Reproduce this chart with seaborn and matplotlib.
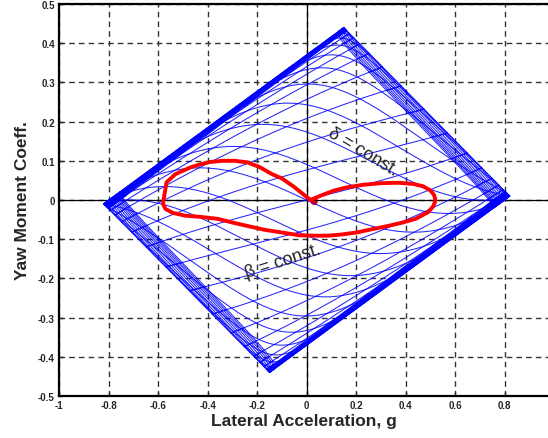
import numpy as np
import pandas as pd
import matplotlib
matplotlib.use("Agg")
import matplotlib.pyplot as plt
import seaborn as sns

# ---------------- data ----------------
# sweep values of the moment-method diagram (degrees)
body_slip_deg = list(range(-40, 41, 2))
steer_deg = list(range(-68, 69, 4))

# vehicle / tyre parameters
front_capacity_g = 0.485     # front axle lateral capacity (g)
rear_capacity_g = 0.335      # rear axle lateral capacity (g)
front_moment = 0.225         # yaw-moment coefficient per unit front force
rear_moment = 0.215          # yaw-moment coefficient per unit rear force
front_yaw_gain_deg = 5.4     # a*g/V^2 (deg per g)
rear_yaw_gain_deg = 7.8      # b*g/V^2 (deg per g)
tyre_B, tyre_C, tyre_E = 0.07, 1.5, 0.0

# red trajectory (lateral acceleration g, yaw-moment coeff.)
traj_ay = [0.015, 0.06, 0.11, 0.16, 0.23, 0.30, 0.37, 0.43, 0.47, 0.50, 0.515,
           0.52, 0.51, 0.49, 0.44, 0.39, 0.33, 0.26, 0.20, 0.14, 0.09, 0.03,
           -0.03, -0.11, -0.17, -0.22, -0.29, -0.36, -0.43, -0.49, -0.54,
           -0.57, -0.58, -0.577, -0.566, -0.53, -0.47, -0.43, -0.39, -0.34,
           -0.29, -0.24, -0.19, -0.14, -0.10, -0.05, 0.015]
traj_cn = [0.0, 0.012, 0.024, 0.032, 0.039, 0.043, 0.044, 0.041, 0.035, 0.024, 0.012,
           -0.002, -0.017, -0.031, -0.048, -0.057, -0.066, -0.075, -0.083, -0.088, -0.091, -0.091,
           -0.090, -0.082, -0.076, -0.069, -0.059, -0.048, -0.043, -0.040, -0.033,
           -0.023, -0.010, 0.003, 0.045, 0.066, 0.083, 0.091, 0.097, 0.100,
           0.100, 0.096, 0.084, 0.066, 0.055, 0.033, 0.0]
start_ay = [0.03]
start_cn = [-0.003]

# label texts
x_label = "Lateral Acceleration, g"
y_label = "Yaw Moment Coeff."
x_ticks = [-1, -0.8, -0.6, -0.4, -0.2, 0, 0.2, 0.4, 0.6, 0.8]
y_ticks = [-0.5, -0.4, -0.3, -0.2, -0.1, 0, 0.1, 0.2, 0.3, 0.4, 0.5]


# ---------------- model ----------------
def tyre(alpha):
    x = tyre_B * np.asarray(alpha)
    return np.sin(tyre_C * np.arctan(x - tyre_E * (x - np.arctan(x))))


def state(beta, delta):
    beta = np.asarray(beta, float)
    delta = np.asarray(delta, float)
    lo = np.full(np.broadcast(beta, delta).shape, -2.0)
    hi = np.full_like(lo, 2.0)
    for _ in range(60):
        mid = 0.5 * (lo + hi)
        af = delta - beta - front_yaw_gain_deg * mid
        ar = -beta + rear_yaw_gain_deg * mid
        g = mid - front_capacity_g * tyre(af) - rear_capacity_g * tyre(ar)
        hi = np.where(g > 0, mid, hi)
        lo = np.where(g > 0, lo, mid)
    ay = 0.5 * (lo + hi)
    ff = tyre(delta - beta - front_yaw_gain_deg * ay)
    fr = tyre(-beta + rear_yaw_gain_deg * ay)
    cn = front_moment * ff - rear_moment * fr
    return ay, cn


frames = []
fine_delta = np.linspace(min(steer_deg), max(steer_deg), 301)
fine_beta = np.linspace(min(body_slip_deg), max(body_slip_deg), 301)
for b in body_slip_deg:
    ay, cn = state(b, fine_delta)
    frames.append(pd.DataFrame({"line": f"b{b}", "ay": ay, "cn": cn}))
for d in steer_deg:
    ay, cn = state(fine_beta, d)
    frames.append(pd.DataFrame({"line": f"d{d}", "ay": ay, "cn": cn}))
mmd = pd.concat(frames, ignore_index=True)
traj = pd.DataFrame({"ay": traj_ay, "cn": traj_cn})

# ---------------- plot ----------------
sns.set_style("ticks")
plt.rcParams["font.family"] = ["Liberation Sans", "DejaVu Sans"]

fig = plt.figure(figsize=(5.48, 4.39), dpi=100)
ax = fig.add_axes([59 / 548, 42 / 439, 1 - 59 / 548, 392 / 439])

sns.lineplot(data=mmd, x="ay", y="cn", units="line", estimator=None, sort=False,
             color="#0000ff", lw=0.75, alpha=0.85, ax=ax, legend=False)
sns.lineplot(data=traj, x="ay", y="cn", estimator=None, sort=False,
             color="#ff0000", lw=2.8, ax=ax, legend=False)
sns.scatterplot(x=start_ay, y=start_cn, color="#ff0000", s=30, edgecolor="none", ax=ax)

ax.set_xlim(-1, (548 - 59) / 247.7 - 1)
ax.set_ylim(-0.5, 0.5)
ax.set_xticks(x_ticks)
ax.set_xticklabels([f"{t:g}" for t in x_ticks], fontsize=7, fontweight="bold")
ax.set_yticks(y_ticks)
ax.set_yticklabels([f"{t:g}" for t in y_ticks], fontsize=7, fontweight="bold")
ax.tick_params(direction="in", length=3, width=1, pad=3)
ax.grid(True, color="#333333", lw=1.0, linestyle=(0, (4, 3)))
ax.set_axisbelow(True)
ax.axhline(0, color="black", lw=0.9, zorder=1.5)
ax.axvline(0, color="black", lw=0.9, zorder=1.5)
for s in ["left", "bottom", "top"]:
    ax.spines[s].set_linewidth(1.6)
    ax.spines[s].set_color("black")
ax.spines["right"].set_visible(False)

ax.set_xlabel(x_label, fontsize=12.5, fontweight="bold", labelpad=2)
ax.set_ylabel(y_label, fontsize=12.5, fontweight="bold", labelpad=6)

ax.text(0.225, 0.125, "\u03b4 = const.", fontsize=13, rotation=-31,
        ha="center", va="center", family=["Liberation Sans", "DejaVu Sans"])
ax.text(-0.095, -0.155, "\u03b2 = const.", fontsize=13, rotation=18,
        ha="center", va="center", family=["Liberation Sans", "DejaVu Sans"])

fig.savefig("out.png", dpi=100)
